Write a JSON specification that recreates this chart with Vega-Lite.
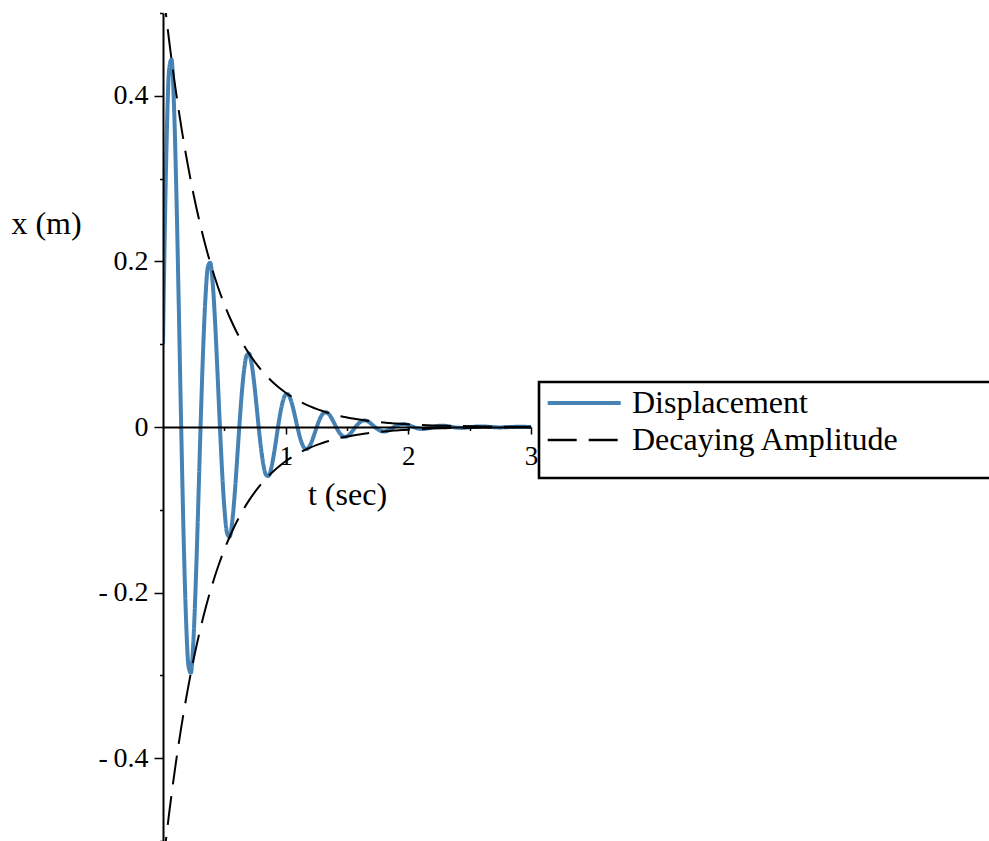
{
  "$schema": "https://vega.github.io/schema/vega-lite/v6.json",
  "width": 368,
  "height": 828,
  "autosize": {"type": "none"},
  "padding": {"left": 163, "top": 13, "right": 458, "bottom": 0},
  "background": "white",
  "config": {
    "view": {"stroke": null},
    "font": "Liberation Serif",
    "legend": {
      "strokeColor": "black",
      "strokeWidth": 2.6,
      "fillColor": "white",
      "padding": 5,
      "cornerRadius": 0
    }
  },
  "datasets": {
    "disp": [
      {"t":0,"x":0.1,"s":"Displacement"},
      {"t":0.0102,"x":0.1976,"s":"Displacement"},
      {"t":0.0299,"x":0.3472,"s":"Displacement"},
      {"t":0.0497,"x":0.4314,"s":"Displacement"},
      {"t":0.0694,"x":0.4440,"s":"Displacement"},
      {"t":0.0891,"x":0.3901,"s":"Displacement"},
      {"t":0.1089,"x":0.2839,"s":"Displacement"},
      {"t":0.1286,"x":0.1461,"s":"Displacement"},
      {"t":0.1483,"x":0,"s":"Displacement"},
      {"t":0.1681,"x":-0.1321,"s":"Displacement"},
      {"t":0.1878,"x":-0.2322,"s":"Displacement"},
      {"t":0.2075,"x":-0.2884,"s":"Displacement"},
      {"t":0.2273,"x":-0.2969,"s":"Displacement"},
      {"t":0.2470,"x":-0.2608,"s":"Displacement"},
      {"t":0.2667,"x":-0.1898,"s":"Displacement"},
      {"t":0.2865,"x":-0.0977,"s":"Displacement"},
      {"t":0.3062,"x":0,"s":"Displacement"},
      {"t":0.3259,"x":0.0883,"s":"Displacement"},
      {"t":0.3457,"x":0.1552,"s":"Displacement"},
      {"t":0.3654,"x":0.1928,"s":"Displacement"},
      {"t":0.3851,"x":0.1985,"s":"Displacement"},
      {"t":0.4049,"x":0.1744,"s":"Displacement"},
      {"t":0.4246,"x":0.1269,"s":"Displacement"},
      {"t":0.4443,"x":0.0653,"s":"Displacement"},
      {"t":0.4641,"x":0,"s":"Displacement"},
      {"t":0.4838,"x":-0.0591,"s":"Displacement"},
      {"t":0.5035,"x":-0.1038,"s":"Displacement"},
      {"t":0.5233,"x":-0.1289,"s":"Displacement"},
      {"t":0.5430,"x":-0.1327,"s":"Displacement"},
      {"t":0.5627,"x":-0.1166,"s":"Displacement"},
      {"t":0.5825,"x":-0.0849,"s":"Displacement"},
      {"t":0.6022,"x":-0.0437,"s":"Displacement"},
      {"t":0.6219,"x":0,"s":"Displacement"},
      {"t":0.6417,"x":0.0395,"s":"Displacement"},
      {"t":0.6614,"x":0.0694,"s":"Displacement"},
      {"t":0.6812,"x":0.0862,"s":"Displacement"},
      {"t":0.7009,"x":0.0887,"s":"Displacement"},
      {"t":0.7206,"x":0.0780,"s":"Displacement"},
      {"t":0.7404,"x":0.0567,"s":"Displacement"},
      {"t":0.7601,"x":0.0292,"s":"Displacement"},
      {"t":0.7798,"x":0,"s":"Displacement"},
      {"t":0.7996,"x":-0.0264,"s":"Displacement"},
      {"t":0.8193,"x":-0.0464,"s":"Displacement"},
      {"t":0.8390,"x":-0.0576,"s":"Displacement"},
      {"t":0.8588,"x":-0.0593,"s":"Displacement"},
      {"t":0.8785,"x":-0.0521,"s":"Displacement"},
      {"t":0.8982,"x":-0.0379,"s":"Displacement"},
      {"t":0.9180,"x":-0.0195,"s":"Displacement"},
      {"t":0.9377,"x":0,"s":"Displacement"},
      {"t":0.9574,"x":0.0177,"s":"Displacement"},
      {"t":0.9772,"x":0.0310,"s":"Displacement"},
      {"t":0.9969,"x":0.0385,"s":"Displacement"},
      {"t":1.0166,"x":0.0397,"s":"Displacement"},
      {"t":1.0364,"x":0.0348,"s":"Displacement"},
      {"t":1.0561,"x":0.0254,"s":"Displacement"},
      {"t":1.0758,"x":0.0131,"s":"Displacement"},
      {"t":1.0956,"x":0,"s":"Displacement"},
      {"t":1.1153,"x":-0.0118,"s":"Displacement"},
      {"t":1.1350,"x":-0.0207,"s":"Displacement"},
      {"t":1.1548,"x":-0.0258,"s":"Displacement"},
      {"t":1.1745,"x":-0.0265,"s":"Displacement"},
      {"t":1.1942,"x":-0.0233,"s":"Displacement"},
      {"t":1.2140,"x":-0.0170,"s":"Displacement"},
      {"t":1.2337,"x":-0.0087,"s":"Displacement"},
      {"t":1.2534,"x":0,"s":"Displacement"},
      {"t":1.2732,"x":0.0079,"s":"Displacement"},
      {"t":1.2929,"x":0.0139,"s":"Displacement"},
      {"t":1.3126,"x":0.0172,"s":"Displacement"},
      {"t":1.3324,"x":0.0177,"s":"Displacement"},
      {"t":1.3521,"x":0.0156,"s":"Displacement"},
      {"t":1.3718,"x":0.0113,"s":"Displacement"},
      {"t":1.3916,"x":0.0058,"s":"Displacement"},
      {"t":1.4113,"x":0,"s":"Displacement"},
      {"t":1.4310,"x":-0.0053,"s":"Displacement"},
      {"t":1.4508,"x":-0.0093,"s":"Displacement"},
      {"t":1.4705,"x":-0.0115,"s":"Displacement"},
      {"t":1.4902,"x":-0.0119,"s":"Displacement"},
      {"t":1.5100,"x":-0.0104,"s":"Displacement"},
      {"t":1.5297,"x":-0.0076,"s":"Displacement"},
      {"t":1.5494,"x":-0.0039,"s":"Displacement"},
      {"t":1.5692,"x":0,"s":"Displacement"},
      {"t":1.5889,"x":0.0035,"s":"Displacement"},
      {"t":1.6086,"x":0.0062,"s":"Displacement"},
      {"t":1.6284,"x":0.0077,"s":"Displacement"},
      {"t":1.6481,"x":0.0079,"s":"Displacement"},
      {"t":1.6679,"x":0.0070,"s":"Displacement"},
      {"t":1.6876,"x":0.0051,"s":"Displacement"},
      {"t":1.7073,"x":0.0026,"s":"Displacement"},
      {"t":1.7271,"x":0,"s":"Displacement"},
      {"t":1.7468,"x":-0.0024,"s":"Displacement"},
      {"t":1.7665,"x":-0.0041,"s":"Displacement"},
      {"t":1.7863,"x":-0.0052,"s":"Displacement"},
      {"t":1.8060,"x":-0.0053,"s":"Displacement"},
      {"t":1.8257,"x":-0.0047,"s":"Displacement"},
      {"t":1.8455,"x":-0.0034,"s":"Displacement"},
      {"t":1.8652,"x":-0.0017,"s":"Displacement"},
      {"t":1.8849,"x":0,"s":"Displacement"},
      {"t":1.9047,"x":0.0016,"s":"Displacement"},
      {"t":1.9244,"x":0.0028,"s":"Displacement"},
      {"t":1.9441,"x":0.0034,"s":"Displacement"},
      {"t":1.9639,"x":0.0035,"s":"Displacement"},
      {"t":1.9836,"x":0.0031,"s":"Displacement"},
      {"t":2.0033,"x":0.0023,"s":"Displacement"},
      {"t":2.0231,"x":0.0012,"s":"Displacement"},
      {"t":2.0428,"x":0,"s":"Displacement"},
      {"t":2.0625,"x":-0.0011,"s":"Displacement"},
      {"t":2.0823,"x":-0.0019,"s":"Displacement"},
      {"t":2.1020,"x":-0.0023,"s":"Displacement"},
      {"t":2.1217,"x":-0.0024,"s":"Displacement"},
      {"t":2.1415,"x":-0.0021,"s":"Displacement"},
      {"t":2.1612,"x":-0.0015,"s":"Displacement"},
      {"t":2.1809,"x":-0.0008,"s":"Displacement"},
      {"t":2.2007,"x":0,"s":"Displacement"},
      {"t":2.2204,"x":0.0007,"s":"Displacement"},
      {"t":2.2401,"x":0.0012,"s":"Displacement"},
      {"t":2.2599,"x":0.0015,"s":"Displacement"},
      {"t":2.2796,"x":0.0016,"s":"Displacement"},
      {"t":2.2993,"x":0.0014,"s":"Displacement"},
      {"t":2.3191,"x":0.0010,"s":"Displacement"},
      {"t":2.3388,"x":0.0005,"s":"Displacement"},
      {"t":2.3585,"x":0,"s":"Displacement"},
      {"t":2.3783,"x":-0.0005,"s":"Displacement"},
      {"t":2.3980,"x":-0.0008,"s":"Displacement"},
      {"t":2.4177,"x":-0.0010,"s":"Displacement"},
      {"t":2.4375,"x":-0.0011,"s":"Displacement"},
      {"t":2.4572,"x":-0.0009,"s":"Displacement"},
      {"t":2.4769,"x":-0.0007,"s":"Displacement"},
      {"t":2.4967,"x":-0.0003,"s":"Displacement"},
      {"t":2.5164,"x":0,"s":"Displacement"},
      {"t":2.5361,"x":0.0003,"s":"Displacement"},
      {"t":2.5559,"x":0.0006,"s":"Displacement"},
      {"t":2.5756,"x":0.0007,"s":"Displacement"},
      {"t":2.5953,"x":0.0007,"s":"Displacement"},
      {"t":2.6151,"x":0.0006,"s":"Displacement"},
      {"t":2.6348,"x":0.0005,"s":"Displacement"},
      {"t":2.6545,"x":0.0002,"s":"Displacement"},
      {"t":2.6743,"x":0,"s":"Displacement"},
      {"t":2.6940,"x":-0.0002,"s":"Displacement"},
      {"t":2.7137,"x":-0.0004,"s":"Displacement"},
      {"t":2.7335,"x":-0.0005,"s":"Displacement"},
      {"t":2.7532,"x":-0.0005,"s":"Displacement"},
      {"t":2.7730,"x":-0.0004,"s":"Displacement"},
      {"t":2.7927,"x":-0.0003,"s":"Displacement"},
      {"t":2.8124,"x":-0.0002,"s":"Displacement"},
      {"t":2.8322,"x":0,"s":"Displacement"},
      {"t":2.8519,"x":0.0001,"s":"Displacement"},
      {"t":2.8716,"x":0.0002,"s":"Displacement"},
      {"t":2.8914,"x":0.0003,"s":"Displacement"},
      {"t":2.9111,"x":0.0003,"s":"Displacement"},
      {"t":2.9308,"x":0.0003,"s":"Displacement"},
      {"t":2.9506,"x":0.0002,"s":"Displacement"},
      {"t":2.9703,"x":0.0001,"s":"Displacement"},
      {"t":2.9900,"x":0,"s":"Displacement"},
      {"t":3.0,"x":0,"s":"Displacement"}
    ],
    "env": [
      {"t":0,"x":0.5300,"s":"Decaying Amplitude","b":"u"},
      {"t":0.05,"x":0.4666,"s":"Decaying Amplitude","b":"u"},
      {"t":0.1,"x":0.4107,"s":"Decaying Amplitude","b":"u"},
      {"t":0.15,"x":0.3616,"s":"Decaying Amplitude","b":"u"},
      {"t":0.2,"x":0.3183,"s":"Decaying Amplitude","b":"u"},
      {"t":0.25,"x":0.2802,"s":"Decaying Amplitude","b":"u"},
      {"t":0.3,"x":0.2466,"s":"Decaying Amplitude","b":"u"},
      {"t":0.35,"x":0.2171,"s":"Decaying Amplitude","b":"u"},
      {"t":0.4,"x":0.1911,"s":"Decaying Amplitude","b":"u"},
      {"t":0.45,"x":0.1682,"s":"Decaying Amplitude","b":"u"},
      {"t":0.5,"x":0.1481,"s":"Decaying Amplitude","b":"u"},
      {"t":0.55,"x":0.1304,"s":"Decaying Amplitude","b":"u"},
      {"t":0.6,"x":0.1148,"s":"Decaying Amplitude","b":"u"},
      {"t":0.65,"x":0.1010,"s":"Decaying Amplitude","b":"u"},
      {"t":0.7,"x":0.0889,"s":"Decaying Amplitude","b":"u"},
      {"t":0.75,"x":0.0783,"s":"Decaying Amplitude","b":"u"},
      {"t":0.8,"x":0.0689,"s":"Decaying Amplitude","b":"u"},
      {"t":0.85,"x":0.0607,"s":"Decaying Amplitude","b":"u"},
      {"t":0.9,"x":0.0534,"s":"Decaying Amplitude","b":"u"},
      {"t":0.95,"x":0.0470,"s":"Decaying Amplitude","b":"u"},
      {"t":1.0,"x":0.0414,"s":"Decaying Amplitude","b":"u"},
      {"t":1.05,"x":0.0364,"s":"Decaying Amplitude","b":"u"},
      {"t":1.1,"x":0.0321,"s":"Decaying Amplitude","b":"u"},
      {"t":1.15,"x":0.0282,"s":"Decaying Amplitude","b":"u"},
      {"t":1.2,"x":0.0249,"s":"Decaying Amplitude","b":"u"},
      {"t":1.25,"x":0.0219,"s":"Decaying Amplitude","b":"u"},
      {"t":1.3,"x":0.0193,"s":"Decaying Amplitude","b":"u"},
      {"t":1.35,"x":0.0170,"s":"Decaying Amplitude","b":"u"},
      {"t":1.4,"x":0.0149,"s":"Decaying Amplitude","b":"u"},
      {"t":1.45,"x":0.0131,"s":"Decaying Amplitude","b":"u"},
      {"t":1.5,"x":0.0116,"s":"Decaying Amplitude","b":"u"},
      {"t":1.55,"x":0.0102,"s":"Decaying Amplitude","b":"u"},
      {"t":1.6,"x":0.0090,"s":"Decaying Amplitude","b":"u"},
      {"t":1.65,"x":0.0079,"s":"Decaying Amplitude","b":"u"},
      {"t":1.7,"x":0.0069,"s":"Decaying Amplitude","b":"u"},
      {"t":1.75,"x":0.0061,"s":"Decaying Amplitude","b":"u"},
      {"t":1.8,"x":0.0054,"s":"Decaying Amplitude","b":"u"},
      {"t":1.85,"x":0.0047,"s":"Decaying Amplitude","b":"u"},
      {"t":1.9,"x":0.0042,"s":"Decaying Amplitude","b":"u"},
      {"t":1.95,"x":0.0037,"s":"Decaying Amplitude","b":"u"},
      {"t":2.0,"x":0.0032,"s":"Decaying Amplitude","b":"u"},
      {"t":2.1,"x":0.0025,"s":"Decaying Amplitude","b":"u"},
      {"t":2.2,"x":0.0019,"s":"Decaying Amplitude","b":"u"},
      {"t":2.3,"x":0.0015,"s":"Decaying Amplitude","b":"u"},
      {"t":2.4,"x":0.0012,"s":"Decaying Amplitude","b":"u"},
      {"t":2.5,"x":0.0009,"s":"Decaying Amplitude","b":"u"},
      {"t":2.6,"x":0.0007,"s":"Decaying Amplitude","b":"u"},
      {"t":2.7,"x":0.0005,"s":"Decaying Amplitude","b":"u"},
      {"t":2.8,"x":0.0004,"s":"Decaying Amplitude","b":"u"},
      {"t":2.9,"x":0.0003,"s":"Decaying Amplitude","b":"u"},
      {"t":3.0,"x":0.0003,"s":"Decaying Amplitude","b":"u"},
      {"t":0,"x":-0.5300,"s":"Decaying Amplitude","b":"l"},
      {"t":0.05,"x":-0.4666,"s":"Decaying Amplitude","b":"l"},
      {"t":0.1,"x":-0.4107,"s":"Decaying Amplitude","b":"l"},
      {"t":0.15,"x":-0.3616,"s":"Decaying Amplitude","b":"l"},
      {"t":0.2,"x":-0.3183,"s":"Decaying Amplitude","b":"l"},
      {"t":0.25,"x":-0.2802,"s":"Decaying Amplitude","b":"l"},
      {"t":0.3,"x":-0.2466,"s":"Decaying Amplitude","b":"l"},
      {"t":0.35,"x":-0.2171,"s":"Decaying Amplitude","b":"l"},
      {"t":0.4,"x":-0.1911,"s":"Decaying Amplitude","b":"l"},
      {"t":0.45,"x":-0.1682,"s":"Decaying Amplitude","b":"l"},
      {"t":0.5,"x":-0.1481,"s":"Decaying Amplitude","b":"l"},
      {"t":0.55,"x":-0.1304,"s":"Decaying Amplitude","b":"l"},
      {"t":0.6,"x":-0.1148,"s":"Decaying Amplitude","b":"l"},
      {"t":0.65,"x":-0.1010,"s":"Decaying Amplitude","b":"l"},
      {"t":0.7,"x":-0.0889,"s":"Decaying Amplitude","b":"l"},
      {"t":0.75,"x":-0.0783,"s":"Decaying Amplitude","b":"l"},
      {"t":0.8,"x":-0.0689,"s":"Decaying Amplitude","b":"l"},
      {"t":0.85,"x":-0.0607,"s":"Decaying Amplitude","b":"l"},
      {"t":0.9,"x":-0.0534,"s":"Decaying Amplitude","b":"l"},
      {"t":0.95,"x":-0.0470,"s":"Decaying Amplitude","b":"l"},
      {"t":1.0,"x":-0.0414,"s":"Decaying Amplitude","b":"l"},
      {"t":1.05,"x":-0.0364,"s":"Decaying Amplitude","b":"l"},
      {"t":1.1,"x":-0.0321,"s":"Decaying Amplitude","b":"l"},
      {"t":1.15,"x":-0.0282,"s":"Decaying Amplitude","b":"l"},
      {"t":1.2,"x":-0.0249,"s":"Decaying Amplitude","b":"l"},
      {"t":1.25,"x":-0.0219,"s":"Decaying Amplitude","b":"l"},
      {"t":1.3,"x":-0.0193,"s":"Decaying Amplitude","b":"l"},
      {"t":1.35,"x":-0.0170,"s":"Decaying Amplitude","b":"l"},
      {"t":1.4,"x":-0.0149,"s":"Decaying Amplitude","b":"l"},
      {"t":1.45,"x":-0.0131,"s":"Decaying Amplitude","b":"l"},
      {"t":1.5,"x":-0.0116,"s":"Decaying Amplitude","b":"l"},
      {"t":1.55,"x":-0.0102,"s":"Decaying Amplitude","b":"l"},
      {"t":1.6,"x":-0.0090,"s":"Decaying Amplitude","b":"l"},
      {"t":1.65,"x":-0.0079,"s":"Decaying Amplitude","b":"l"},
      {"t":1.7,"x":-0.0069,"s":"Decaying Amplitude","b":"l"},
      {"t":1.75,"x":-0.0061,"s":"Decaying Amplitude","b":"l"},
      {"t":1.8,"x":-0.0054,"s":"Decaying Amplitude","b":"l"},
      {"t":1.85,"x":-0.0047,"s":"Decaying Amplitude","b":"l"},
      {"t":1.9,"x":-0.0042,"s":"Decaying Amplitude","b":"l"},
      {"t":1.95,"x":-0.0037,"s":"Decaying Amplitude","b":"l"},
      {"t":2.0,"x":-0.0032,"s":"Decaying Amplitude","b":"l"},
      {"t":2.1,"x":-0.0025,"s":"Decaying Amplitude","b":"l"},
      {"t":2.2,"x":-0.0019,"s":"Decaying Amplitude","b":"l"},
      {"t":2.3,"x":-0.0015,"s":"Decaying Amplitude","b":"l"},
      {"t":2.4,"x":-0.0012,"s":"Decaying Amplitude","b":"l"},
      {"t":2.5,"x":-0.0009,"s":"Decaying Amplitude","b":"l"},
      {"t":2.6,"x":-0.0007,"s":"Decaying Amplitude","b":"l"},
      {"t":2.7,"x":-0.0005,"s":"Decaying Amplitude","b":"l"},
      {"t":2.8,"x":-0.0004,"s":"Decaying Amplitude","b":"l"},
      {"t":2.9,"x":-0.0003,"s":"Decaying Amplitude","b":"l"},
      {"t":3.0,"x":-0.0003,"s":"Decaying Amplitude","b":"l"}
    ]
  },
  "encoding": {
    "x": {
      "field": "t",
      "type": "quantitative",
      "scale": {"domain": [0, 3], "nice": false, "zero": false},
      "axis": {
        "values": [0.5, 1, 1.5, 2, 2.5, 3],
        "offset": -414,
        "grid": false,
        "zindex": 1,
        "domainColor": "black",
        "domainWidth": 2,
        "tickColor": "black",
        "tickWidth": 1.5,
        "tickSize": {"condition": {"test": "datum.value % 1 != 0", "value": 3.5}, "value": 7},
        "labelExpr": "datum.value % 1 == 0 ? format(datum.value, 'd') : ''",
        "labelFont": "Liberation Serif",
        "labelFontSize": 27,
        "labelColor": "black",
        "labelPadding": 9,
        "labelFlush": false,
        "labelOverlap": false,
        "title": "t (sec)",
        "titleFont": "Liberation Serif",
        "titleFontSize": 32,
        "titleFontWeight": "normal",
        "titleColor": "black",
        "titleAlign": "center",
        "titleBaseline": "alphabetic",
        "titleX": 184,
        "titleY": 77
      }
    },
    "y": {
      "field": "x",
      "type": "quantitative",
      "scale": {"domain": [-0.5, 0.5], "nice": false, "zero": false},
      "axis": {
        "values": [-0.5, -0.4, -0.3, -0.2, -0.1, 0, 0.1, 0.2, 0.3, 0.4, 0.5],
        "grid": false,
        "zindex": 1,
        "domainColor": "black",
        "domainWidth": 2,
        "tickColor": "black",
        "tickWidth": 1.5,
        "tickSize": {"condition": {"test": "abs(round(datum.value*10)) % 2 == 0", "value": 9}, "value": 3.5},
        "labelExpr": "abs(round(datum.value*10)) % 2 != 0 ? '' : (datum.value < -0.01 ? '-\u2009' + format(-datum.value, '.1f') : (datum.value > 0.01 ? format(datum.value, '.1f') : '0'))",
        "labelFont": "Liberation Serif",
        "labelFontSize": 28,
        "labelColor": "black",
        "labelPadding": 6,
        "labelFlush": false,
        "labelOverlap": false,
        "title": "x (m)",
        "titleFont": "Liberation Serif",
        "titleFontSize": 32,
        "titleFontWeight": "normal",
        "titleColor": "black",
        "titleAngle": 0,
        "titleAlign": "center",
        "titleBaseline": "alphabetic",
        "titleX": -117,
        "titleY": 220
      }
    },
    "color": {
      "field": "s",
      "type": "nominal",
      "scale": {"domain": ["Displacement", "Decaying Amplitude"], "range": ["#4682b4", "#000000"]},
      "legend": {
        "orient": "none",
        "legendX": 376,
        "legendY": 369,
        "title": "\u00a0",
        "titleOrient": "bottom",
        "titleFontSize": 14,
        "titlePadding": 3,
        "symbolType": "M-1.23,0H6.07",
        "symbolSize": 400,
        "symbolStrokeWidth": 3,
        "rowPadding": 5,
        "symbolOffset": 0,
        "labelOffset": 56,
        "labelFont": "Liberation Serif",
        "labelFontSize": 32,
        "labelColor": "black",
        "labelLimit": 3000,
        "labelExpr": "datum.label + '\u00a0\u00a0\u00a0\u00a0\u00a0\u00a0\u00a0\u00a0\u00a0\u00a0\u00a0\u200a\u200b'",
        "encode": {"symbols": {"update": {"strokeWidth": {"signal": "(datum.value === 'Displacement' ? 4 : 2.3)"}}}}
      }
    },
    "strokeDash": {
      "field": "s",
      "type": "nominal",
      "scale": {"domain": ["Displacement", "Decaying Amplitude"], "range": [[1, 0], [29, 12]]},
      "legend": {
        "orient": "none",
        "legendX": 376,
        "legendY": 369,
        "title": "\u00a0",
        "titleOrient": "bottom",
        "titleFontSize": 14,
        "titlePadding": 3,
        "symbolType": "M-1.23,0H6.07",
        "symbolSize": 400,
        "symbolStrokeWidth": 3,
        "rowPadding": 5,
        "symbolOffset": 0,
        "labelOffset": 56,
        "labelFont": "Liberation Serif",
        "labelFontSize": 32,
        "labelColor": "black",
        "labelLimit": 3000,
        "labelExpr": "datum.label + '\u00a0\u00a0\u00a0\u00a0\u00a0\u00a0\u00a0\u00a0\u00a0\u00a0\u00a0\u200a\u200b'",
        "encode": {"symbols": {"update": {"strokeWidth": {"signal": "(datum.value === 'Displacement' ? 4 : 2.3)"}}}}
      }
    }
  },
  "layer": [
    {
      "data": {"name": "disp"},
      "mark": {"type": "line", "strokeWidth": 4, "interpolate": "monotone", "clip": true}
    },
    {
      "data": {"name": "env"},
      "mark": {"type": "line", "strokeWidth": 2, "interpolate": "monotone", "clip": true},
      "encoding": {"detail": {"field": "b", "type": "nominal"}}
    }
  ]
}
